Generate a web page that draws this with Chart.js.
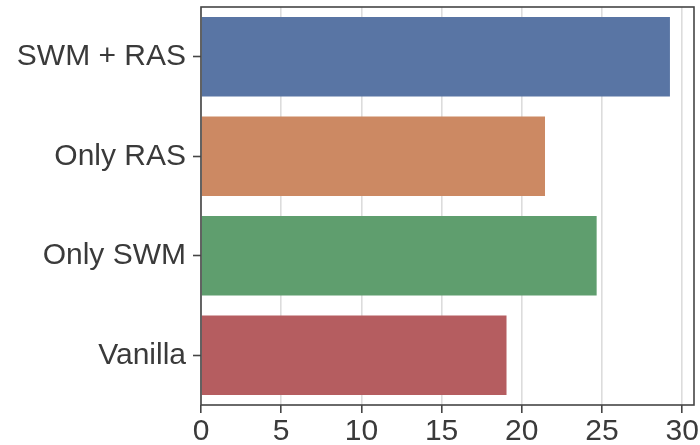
<!DOCTYPE html>
<html>
<head>
<meta charset="utf-8">
<script src="https://cdn.jsdelivr.net/npm/chart.js@4/dist/chart.umd.min.js"></script>
<style>
  html, body { margin: 0; padding: 0; background: #ffffff; }
  #wrap { width: 700px; height: 445px; }
</style>
</head>
<body>
<div id="wrap"><canvas id="c" width="700" height="445"></canvas></div>
<script>
// Model variants and their scores
const categories = ['SWM + RAS', 'Only RAS', 'Only SWM', 'Vanilla'];
const scores = [29.24, 21.45, 24.67, 19.05];
const barColors = ['#5975a4', '#cc8963', '#5f9e6e', '#b55d60'];
const xTickStep = 5;
const xMax = 30.74;

const spineColor = '#454545';
const textColor = '#3a3a3a';
const labelFont = { family: 'Liberation Sans, Arial, sans-serif', size: 30 };

// Closed frame around the plotting area (top and right spines too)
const framePlugin = {
  id: 'frame',
  afterDraw(chart) {
    const { ctx, chartArea: a } = chart;
    ctx.save();
    ctx.strokeStyle = spineColor;
    ctx.lineWidth = 1.6;
    ctx.strokeRect(a.left, a.top, a.right - a.left, a.bottom - a.top);
    ctx.restore();
  }
};

new Chart(document.getElementById('c'), {
  type: 'bar',
  data: {
    labels: categories,
    datasets: [{
      data: scores,
      backgroundColor: barColors,
      borderWidth: 0,
      barPercentage: 0.8,
      categoryPercentage: 1.0
    }]
  },
  options: {
    indexAxis: 'y',
    responsive: false,
    animation: false,
    devicePixelRatio: 1,
    layout: { padding: { left: 0, right: 6, top: 7, bottom: 0 } },
    plugins: { legend: { display: false }, tooltip: { enabled: false } },
    scales: {
      x: {
        min: 0,
        max: xMax,
        border: { display: false },
        grid: {
          color: '#dcdcdc',
          lineWidth: 1.6,
          drawTicks: true,
          tickLength: 8,
          tickColor: spineColor,
          tickWidth: 1.6
        },
        ticks: {
          stepSize: xTickStep,
          includeBounds: false,
          color: textColor,
          padding: 1,
          font: labelFont
        },
        afterFit(scale) {
          scale.height = 40;
          scale.paddingLeft = 0;
          scale.paddingRight = 0;
        }
      },
      y: {
        border: { display: false },
        grid: {
          offset: false,
          color: 'rgba(0,0,0,0)',
          drawTicks: true,
          tickLength: 8,
          tickColor: spineColor,
          tickWidth: 1.6
        },
        ticks: {
          color: textColor,
          padding: 7,
          font: labelFont
        },
        afterFit(scale) {
          scale.width = 201;
          scale.paddingTop = 0;
          scale.paddingBottom = 0;
        }
      }
    }
  },
  plugins: [framePlugin]
});
</script>
</body>
</html>
